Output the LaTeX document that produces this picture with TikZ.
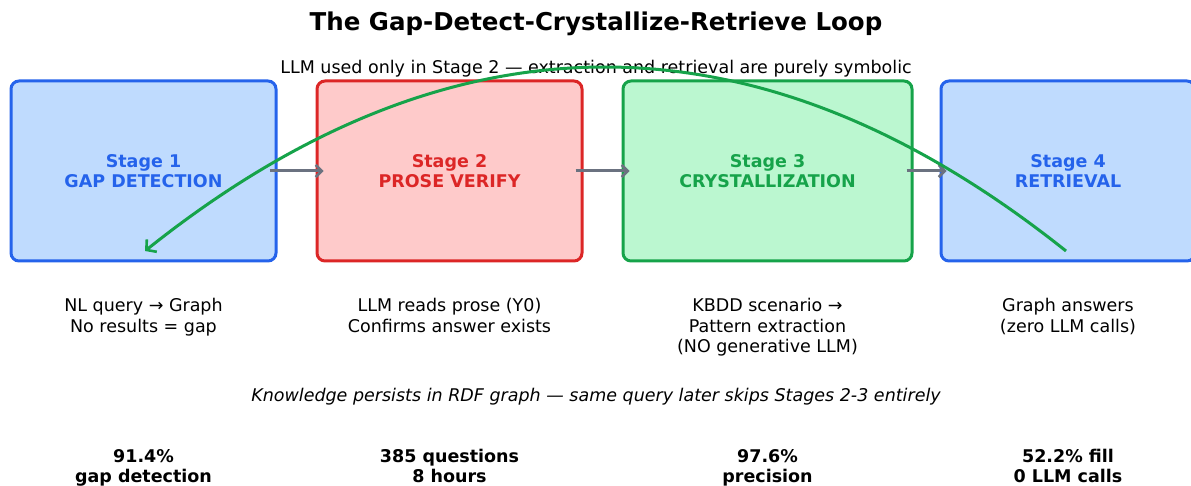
\documentclass[tikz,border=0pt]{standalone}
\usepackage{fontspec}
\setmainfont{DejaVu Sans}
\usetikzlibrary{arrows.meta,calc}

\definecolor{blueFill}{HTML}{BFDBFE}
\definecolor{blueLine}{HTML}{2563EB}
\definecolor{redFill}{HTML}{FECACA}
\definecolor{redLine}{HTML}{DC2626}
\definecolor{greenFill}{HTML}{BBF7D0}
\definecolor{greenLine}{HTML}{16A34A}
\definecolor{flowGray}{HTML}{6B7280}

\tikzset{
  stagebox/.style={draw, rounded corners=8pt, line width=3pt,
    minimum height=180pt, align=center,
    font=\fontsize{17.5}{20}\selectfont\bfseries},
  desc/.style={align=center, anchor=north, font=\fontsize{17.5}{20.5}\selectfont},
  stat/.style={align=center, anchor=north, font=\fontsize{17.5}{20}\selectfont\bfseries},
  flow/.style={draw=flowGray, line width=3pt,
    -{Straight Barb[length=6pt,width=12pt,line width=2.6pt]}},
  loop/.style={draw=greenLine, line width=3pt,
    -{Straight Barb[length=7pt,width=16pt,line width=2.6pt]}}
}

\begin{document}
\begin{tikzpicture}[x=1pt,y=-1pt]
\useasboundingbox (0,0) rectangle (1191,486);

% title and subtitle
\node[font=\fontsize{24.5}{28}\selectfont\bfseries] (title) at (596,24) {The Gap-Detect-Crystallize-Retrieve Loop};
\node[font=\fontsize{17.5}{20}\selectfont] (subtitle) at (596,68.5) {LLM used only in Stage 2 — extraction and retrieval are purely symbolic};

% the four stages
\node[stagebox, fill=blueFill, draw=blueLine, text=blueLine, minimum width=265pt] (s1) at (143.5,171) {Stage 1\\GAP DETECTION};
\node[stagebox, fill=redFill, draw=redLine, text=redLine, minimum width=265pt] (s2) at (449.5,171) {Stage 2\\PROSE VERIFY};
\node[stagebox, fill=greenFill, draw=greenLine, text=greenLine, minimum width=289pt] (s3) at (767.5,171) {Stage 3\\CRYSTALLIZATION};
\node[stagebox, fill=blueFill, draw=blueLine, text=blueLine, minimum width=254pt] (s4) at (1068,171) {Stage 4\\RETRIEVAL};

% forward flow between stages
\draw[flow] ([xshift=-8pt]s1.east) -- ([xshift=8pt]s2.west);
\draw[flow] ([xshift=-8pt]s2.east) -- ([xshift=8pt]s3.west);
\draw[flow] ([xshift=-7pt]s3.east) -- ([xshift=7pt]s4.west);

% knowledge loop back to the first stage
\coordinate (loopfrom) at ($(s4.center)+(-2,80)$);
\coordinate (loopto) at ($(s1.center)+(1.5,80)$);
\draw[loop] (loopfrom) .. controls (759,6) and (452,6) .. (loopto);

% stage descriptions
\node[desc] (d1) at (143.5,295) {NL query → Graph\\No results = gap};
\node[desc] (d2) at (449.5,295) {LLM reads prose (Y0)\\Confirms answer exists};
\node[desc] (d3) at (767.5,295) {KBDD scenario →\\Pattern extraction\\(NO generative LLM)};
\node[desc] (d4) at (1068,295) {Graph answers\\(zero LLM calls)};

% persistence note
\node[font=\fontsize{17.5}{20}\selectfont\itshape] (note) at (596,396.5) {Knowledge persists in RDF graph — same query later skips Stages 2-3 entirely};

% headline numbers
\node[stat] (n1) at (143.5,446) {91.4\%\\gap detection};
\node[stat] (n2) at (449.5,446) {385 questions\\8 hours};
\node[stat] (n3) at (767.5,446) {97.6\%\\precision};
\node[stat] (n4) at (1068,446) {52.2\% fill\\0 LLM calls};
\end{tikzpicture}
\end{document}
